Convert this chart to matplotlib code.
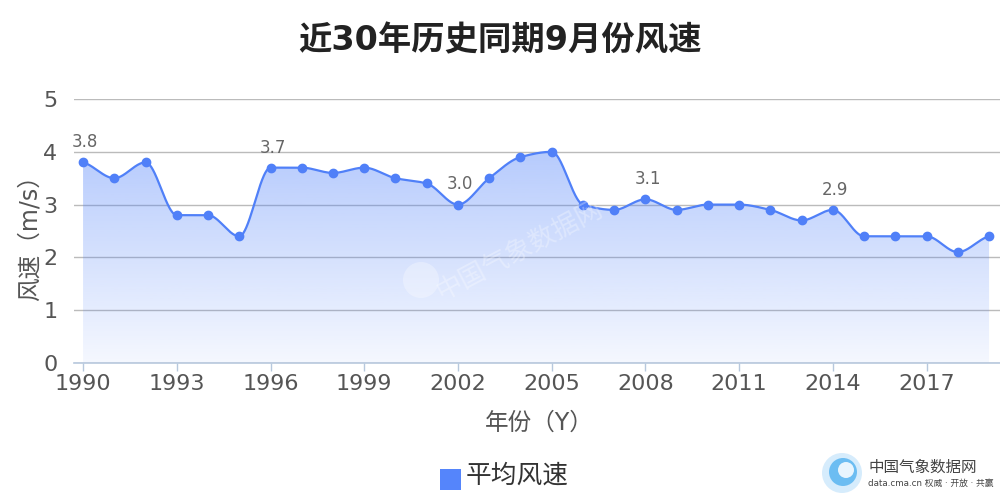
import numpy as np
import matplotlib
matplotlib.use("Agg")
import matplotlib.pyplot as plt
from matplotlib.patches import Ellipse, Rectangle

plt.rcParams['font.family'] = ['DejaVu Sans', 'Noto Sans CJK SC']

years = list(range(1990, 2020))
wind = [3.8, 3.5, 3.8, 2.8, 2.8, 2.4, 3.7, 3.7, 3.6, 3.7,
        3.5, 3.4, 3.0, 3.5, 3.9, 4.0, 3.0, 2.9, 3.1, 2.9,
        3.0, 3.0, 2.9, 2.7, 2.9, 2.4, 2.4, 2.4, 2.1, 2.4]
xticks = list(range(1990, 2020, 3))
yticks = [0, 1, 2, 3, 4, 5]
label_years = [1990, 1996, 2002, 2008, 2014]
title = "近30年历史同期9月份风速"
xlabel = "年份（Y）"
ylabel = "风速（m/s）"
legend_label = "平均风速"

LINE = '#5080f8'
FAM = ['DejaVu Sans', 'Noto Sans CJK SC']


def pchip(x, y, xs):
    x = np.asarray(x, float); y = np.asarray(y, float)
    h = np.diff(x); d = np.diff(y) / h
    n = len(x); m = np.zeros(n)
    for k in range(1, n - 1):
        if d[k - 1] * d[k] > 0:
            w1 = 2 * h[k] + h[k - 1]; w2 = h[k] + 2 * h[k - 1]
            m[k] = (w1 + w2) / (w1 / d[k - 1] + w2 / d[k])
    m[0] = 0 if d[0] == 0 else d[0] * 0.5
    m[-1] = 0 if d[-1] == 0 else d[-1] * 0.5
    idx = np.clip(np.searchsorted(x, xs) - 1, 0, n - 2)
    t = (xs - x[idx]) / h[idx]
    h00 = 2 * t**3 - 3 * t**2 + 1; h10 = t**3 - 2 * t**2 + t
    h01 = -2 * t**3 + 3 * t**2; h11 = t**3 - t**2
    return h00 * y[idx] + h10 * h[idx] * m[idx] + h01 * y[idx + 1] + h11 * h[idx] * m[idx + 1]


def fig_circle(fig, cx, cy, r, **kw):
    # cx, cy, r in pixels (origin top-left)
    e = Ellipse((cx / 1000, 1 - cy / 500), 2 * r / 1000, 2 * r / 500,
                transform=fig.transFigure, **kw)
    fig.patches.append(e)


fig = plt.figure(figsize=(10, 5), dpi=100)
ax = fig.add_axes([0.074, 0.274, 0.926, 0.528])
ax.set_xlim(1989.71, 2019.35)
ax.set_ylim(0, 5)

xs = np.linspace(years[0], years[-1], 2000)
ys = pchip(years, wind, xs)

# gradient fill
rgba = np.zeros((256, 1, 4))
rgba[..., 0] = 0x52 / 255; rgba[..., 1] = 0x83 / 255; rgba[..., 2] = 0xfa / 255
rgba[..., 3] = np.linspace(0.06, 0.42, 256).reshape(-1, 1)
img = ax.imshow(rgba, extent=[years[0], years[-1], 0, 4.0], origin='lower', aspect='auto', zorder=1)
poly = ax.fill_between(xs, ys, 0, color='none', lw=0)
img.set_clip_path(poly.get_paths()[0], transform=ax.transData)

ax.plot(xs, ys, color=LINE, lw=1.6, zorder=3)
ax.plot(years, wind, 'o', color=LINE, ms=6, zorder=4)

for yr in label_years:
    v = wind[years.index(yr)]
    ax.annotate(f"{v:.1f}", (yr, v), xytext=(1.5, 8), textcoords='offset points',
                ha='center', va='bottom', fontsize=12, color='#666666')

ax.set_yticks(yticks)
ax.set_xticks(xticks)
ax.grid(axis='y', color='#bbbbbb', lw=1)
ax.set_axisbelow(True)
for s in ['top', 'right', 'left']:
    ax.spines[s].set_visible(False)
ax.spines['bottom'].set_color('#b7c8dd')
ax.spines['bottom'].set_linewidth(1.2)
ax.tick_params(axis='y', length=0, pad=12, labelsize=16, labelcolor='#555555')
ax.tick_params(axis='x', length=6, width=1, color='#b7c8dd', pad=2, labelsize=16, labelcolor='#555555')

fig.text(0.030, 0.536, ylabel, rotation=90, ha='center', va='center', fontsize=17,
         color='#555555', family=FAM)
fig.text(0.539, 0.154, xlabel, ha='center', va='center', fontsize=17,
         color='#555555', family=FAM)
fig.text(0.5, 0.918, title, ha='center', va='center', fontsize=24, fontweight='bold',
         color='#222222', family=FAM)

# legend
fig.patches.append(Rectangle((0.440, 0.020), 0.021, 0.043, transform=fig.transFigure,
                             facecolor='#5585fb', edgecolor='none'))
fig.text(0.466, 0.048, legend_label, ha='left', va='center', fontsize=18.5,
         color='#333333', family=['Noto Sans CJK SC', 'DejaVu Sans'])

# watermark
fig_circle(fig, 421, 280, 18, facecolor='white', edgecolor='none', alpha=0.3)
fig.text(0.52, 0.5, "中国气象数据网", rotation=28, ha='center', va='center', fontsize=19,
         color='white', alpha=0.3, family=['Noto Sans CJK SC', 'DejaVu Sans'])

# bottom-right logo
fig_circle(fig, 842, 473, 20, facecolor='#d6ecfc', edgecolor='none')
fig_circle(fig, 843, 472, 14, facecolor='#6cbdf2', edgecolor='none')
fig_circle(fig, 846, 470, 8, facecolor='#e8f5fe', edgecolor='none')
fig.text(0.868, 0.066, "中国气象数据网", ha='left', va='center', fontsize=11.2,
         color='#444444', family=['Noto Sans CJK SC', 'DejaVu Sans'])
fig.text(0.868, 0.034, "data.cma.cn 权威 · 开放 · 共赢", ha='left', va='center', fontsize=6.3,
         color='#444444', family=FAM)

fig.savefig('out.png', dpi=100)
